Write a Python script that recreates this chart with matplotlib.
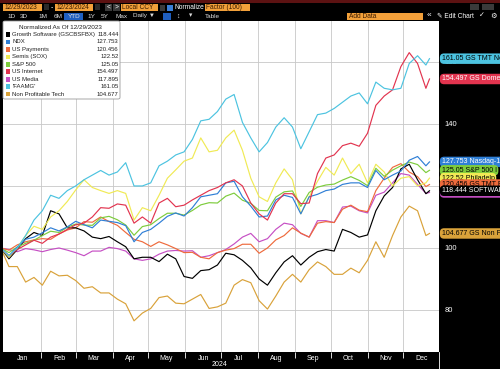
import matplotlib.pyplot as plt
import pandas as pd
from matplotlib.patches import Rectangle, FancyBboxPatch

plt.rcParams["font.family"] = ["Liberation Sans", "DejaVu Sans"]

W, H = 500, 369

# weekly closes, normalized to 100 on 12/29/2023
dates = list(pd.date_range("2023-12-29", periods=52, freq="7D")) + [pd.Timestamp("2024-12-23")]

growth_sw = [100, 96.5, 99.5, 103, 105, 104, 112, 111, 106.5, 106.5, 105.5, 103.5, 103, 103.7, 102,
             100.4, 96.5, 97, 97, 95.6, 98, 96.5, 90.8, 90.2, 92.7, 93, 94.5, 98.3, 97.8, 96, 93.6,
             90, 88, 92, 95.5, 97.5, 94.5, 97, 98.8, 99.5, 99, 106, 105, 103.5, 104.2, 112, 116.8,
             119.5, 125.5, 127, 122, 117.5, 118.444]
ndx = [100, 97.5, 100.3, 102.8, 103.5, 104.9, 106.5, 105.5, 106.8, 108.6, 107.5, 106.5, 109, 108.6,
       108.2, 107.2, 102, 105, 106, 108, 110.2, 111.3, 110.3, 113, 116.5, 117, 117.5, 121, 121.5,
       116.5, 113.5, 110, 110.3, 115.5, 117, 116.3, 111, 116.5, 117.3, 118.5, 119, 120.5, 121, 121,
       119.5, 125, 122, 123.5, 124.8, 128.3, 129.5, 126.5, 127.753]
us_payments = [100, 99.3, 101, 102, 102.6, 103, 102.8, 104.5, 105.8, 106.5, 108.5, 108.3, 110, 108.5,
               107.3, 105, 102.8, 102, 100.5, 102, 101, 99.8, 98.5, 98.6, 97, 96.5, 98.5, 99.3, 99.8,
               101.2, 101.2, 98.3, 100, 102.6, 104, 106.5, 104.8, 103.5, 108, 108.5, 108.2, 112.5,
               113.8, 112.2, 111.7, 118.5, 122.5, 126, 127.2, 124.5, 123, 119.8, 120.456]
semis = [100, 97, 100, 104, 107, 106, 110, 112, 115, 118.7, 122, 119.5, 118.5, 117.6, 118.5, 117.6,
         109, 113, 112, 117, 122.5, 125.2, 128, 129, 135.5, 131, 131.5, 135.5, 138, 131.5, 122.5,
         116.5, 115, 121, 125.5, 122, 111, 116.5, 121.5, 126, 123.5, 129, 124, 127, 121, 127, 124.5,
         120, 122.5, 123, 120, 121, 122.52]
sp500 = [100, 98.5, 100.3, 101.5, 102.5, 104, 105.4, 105, 106.7, 107.7, 107.4, 107.3, 109.7, 110.2,
         109.1, 107.4, 104.1, 106.9, 107.5, 109.5, 111.2, 111.2, 110.6, 112.1, 113.9, 114.6, 114.5,
         116.7, 117.7, 115.4, 114.4, 112.1, 112, 116.4, 118.1, 118.4, 113.4, 117.9, 119.6, 120.3,
         120.6, 121.9, 123, 121.8, 120.1, 125.7, 123.1, 125.1, 126.5, 127.7, 126.9, 124.3, 125.05]
us_internet = [100, 97.5, 99.5, 101, 102.5, 101.5, 103.5, 104.5, 106, 107.5, 108, 110, 113, 112.8,
               114.2, 113.8, 108, 110, 108, 114.5, 116, 113.3, 113.8, 115.5, 117, 118.5, 119.5, 121,
               122, 120, 114.5, 111, 109, 114.5, 117.5, 117.5, 114.3, 114.5, 124, 129, 130, 133,
               133.8, 132.8, 137, 146, 149, 151, 158.5, 163, 159.5, 151.5, 154.497]
us_media = [100, 99.5, 98.8, 99.8, 99.4, 98.8, 99.5, 100, 99.3, 98.5, 97.5, 99, 99, 100.2, 99.8, 99,
            96.5, 96, 96.5, 98, 99, 99.2, 99, 99.1, 97, 97.5, 98.5, 99.5, 101.3, 103.5, 104.7, 102,
            103, 106, 108, 107.5, 104.7, 103.5, 108.8, 108.8, 108.2, 113.2, 113.5, 112, 111.3, 117,
            118, 121, 124, 123.5, 120.5, 117.6, 117.895]
faamg = [100, 97.5, 100, 104, 109, 112, 117, 116, 118.5, 120, 122, 123.5, 125, 123.5, 124.5, 127.5,
         120, 120, 121, 126.5, 128, 130, 131, 135, 141, 141.5, 144, 148, 149.5, 140.5, 135.5, 131,
         134, 139, 142, 139, 132, 137.5, 143, 143.5, 145, 147, 149, 150, 146.5, 153.5, 151.5, 151,
         151.5, 159.5, 162, 159, 161.05]
non_profit = [100, 94, 94, 89, 90.5, 88, 92.5, 91, 91.2, 89.5, 87, 87.5, 85.5, 85.5, 83.5, 82, 76.5,
              79, 80.5, 84, 84.5, 82.2, 82, 83.5, 85, 80.5, 81, 82.2, 88, 89.8, 88.8, 83, 80.3, 84.5,
              89, 91.5, 89, 93, 95.5, 94, 91.5, 91.5, 93.5, 92, 96, 102, 97, 104, 110, 113.5, 112,
              104, 104.677]

legend_names = ["Growth Software (GSCBSFBX)", "NDX", "US Payments", "Semis (SOX)", "S&P 500",
                "US Internet", "US Media", "'FAAMG'", "Non Profitable Tech"]
legend_values = ["118.444", "127.753", "120.456", "122.52", "125.05", "154.497", "117.895",
                 "161.05", "104.677"]
tag_names = ["SOFTWARE", "Nasdaq-10", "GS TMT Pa", "Philadelp", "S&P 500 I", "GS Domest",
             "GS TMT Me", "GS TMT Ne", "GS Non Pr"]
colors = ["#000000", "#2f7fd6", "#ee6a3c", "#f0ea55", "#7dcc3c", "#e2344f", "#c64fc4", "#4cc3e0",
          "#d9a23a"]
tag_text = ["white", "white", "black", "black", "black", "white", "white", "black", "black"]
series = [growth_sw, ndx, us_payments, semis, sp500, us_internet, us_media, faamg, non_profit]

months = ["Jan", "Feb", "Mar", "Apr", "May", "Jun", "Jul", "Aug", "Sep", "Oct", "Nov", "Dec"]


def fx(x):
    return x / W


def fy(y):
    return 1 - y / H


def box(fig, x, y, w, h, color, ec="none", lw=0.5):
    fig.add_artist(Rectangle((fx(x), fy(y + h)), w / W, h / H, transform=fig.transFigure,
                             facecolor=color, edgecolor=ec, linewidth=lw))


fig = plt.figure(figsize=(5, 3.69), dpi=100, facecolor="black")
ax = fig.add_axes([fx(3), fy(352), 436 / W, 331 / H])
ax.set_facecolor("white")

draw_order = [8, 6, 2, 0, 3, 4, 1, 5, 7]
for i in draw_order:
    ax.plot(dates, series[i], color=colors[i], linewidth=0.85)

ax.set_xlim(pd.Timestamp("2023-12-31"), pd.Timestamp("2024-12-31"))
ax.set_ylim(66.45, 173.2)

month_starts = list(pd.date_range("2024-01-01", periods=12, freq="MS"))
mid_months = [d + pd.Timedelta(days=15) for d in month_starts]
ax.set_xticks(month_starts[1:])
ax.set_xticklabels([])
ax.set_xticks(mid_months, minor=True)
ax.set_xticklabels(months, minor=True)
ax.tick_params(axis="x", which="major", colors="white", length=4, width=0.6, direction="out")
ax.tick_params(axis="x", which="minor", length=0, labelsize=5, labelcolor="white", pad=2)

ax.yaxis.tick_right()
ax.set_yticks([80, 100, 120, 140, 160])
ax.tick_params(axis="y", length=0, labelsize=5.5, labelcolor="white", pad=4)
ax.grid(True, which="major", color="#c8c8c8", linewidth=0.6)
for s in ax.spines.values():
    s.set_visible(False)
fig.text(fx(219), fy(364), "2024", color="white", fontsize=5, ha="center", va="center")
fig.add_artist(plt.Line2D([fx(439), fx(439)], [fy(352), fy(369)], color="white", lw=0.6,
                          transform=fig.transFigure))

# right side value tags
tag_order = [1, 4, 3, 2, 6, 0, 8, 5, 7]
for i in tag_order:
    ax.text(1.006, series[i][-1], f"{legend_values[i]} {tag_names[i]}", transform=ax.get_yaxis_transform(),
            ha="left", va="center", fontsize=5, color=tag_text[i], clip_on=False,
            bbox=dict(boxstyle="round,pad=0.25,rounding_size=0.6", fc=colors[i], ec="none"))

# legend panel
fig.add_artist(FancyBboxPatch((fx(3), fy(99)), 117 / W, 78 / H, boxstyle="round,pad=0,rounding_size=0.004",
                              transform=fig.transFigure, facecolor="white", edgecolor="#9a9a9a",
                              linewidth=0.6))
fig.text(fx(60), fy(27.5), "Normalized As Of 12/29/2023", fontsize=4.6, color="#222222",
         va="center", ha="center")
for i, name in enumerate(legend_names):
    yy = 34.5 + i * 7.45
    box(fig, 5.5, yy - 2.3, 4.6, 4.6, colors[i])
    fig.text(fx(12.5), fy(yy), name, fontsize=4.3, color="#222222", va="center")
    fig.text(fx(118.5), fy(yy), legend_values[i], fontsize=4.3, color="#222222", va="center", ha="right")

# toolbar
box(fig, 0, 0, 500, 2.5, "#5c1212")
orange = "#f2a03a"
for x, w, label in [(3, 39, "12/29/2023"), (55, 38, "12/23/2024"), (121, 37, "Local CCY"),
                    (205, 45, "Factor (100)")]:
    box(fig, x, 3.5, w, 7.5, orange)
    fig.text(fx(x + 1.5), fy(7.4), label, fontsize=4.8, color="#3a1a00", va="center")
for x in [44, 95]:
    box(fig, x, 4.5, 5, 5.5, "#2a2a2a")
box(fig, 105, 4, 7, 7, "#3a3a3a")
box(fig, 113, 4, 7, 7, "#3a3a3a")
fig.text(fx(106.8), fy(7.4), "<", fontsize=4.8, color="white", va="center")
fig.text(fx(114.8), fy(7.4), ">", fontsize=4.8, color="white", va="center")
fig.text(fx(50.5), fy(7.4), "-", fontsize=5, color="white", va="center")
box(fig, 160, 4.5, 4.5, 6, "#3a3a3a")
box(fig, 167, 5, 5.5, 5.5, "#3b7fd8")
fig.text(fx(174.5), fy(7.4), "Normalize", fontsize=4.8, color="white", va="center")
box(fig, 470, 3.5, 9, 6, "#3a3a3a")
box(fig, 482, 3.5, 12, 6, "#3a3a3a")

box(fig, 64, 12.5, 19, 7, "#1f5fc0")
for x, label in [(7, "1D"), (20, "3D"), (38, "1M"), (54, "6M"), (67.5, "YTD"), (87, "1Y"), (101, "5Y"),
                 (116, "Max"), (133, "Daily \u25bc"), (205, "Table")]:
    fig.text(fx(x), fy(16), label, fontsize=4.6, color="#dddddd", va="center")
box(fig, 163, 12.5, 8, 7, "#1f5fc0")
fig.text(fx(176), fy(16), "\u2195", fontsize=4.8, color="#dddddd", va="center")
fig.text(fx(189), fy(16), "\u25be", fontsize=4.8, color="#dddddd", va="center")
box(fig, 347, 12.5, 76, 7, orange)
fig.text(fx(349), fy(16), "Add Data", fontsize=4.8, color="#3a1a00", va="center")
fig.text(fx(427), fy(16), "\u00ab", fontsize=6, color="white", va="center")
fig.text(fx(437), fy(16), "\u270e Edit Chart", fontsize=4.8, color="white", va="center")
fig.text(fx(479), fy(16), "\u2713", fontsize=5, color="white", va="center")
fig.text(fx(490), fy(16), "\u2699", fontsize=5.2, color="white", va="center")

fig.savefig("out.png", dpi=100, facecolor="black")
